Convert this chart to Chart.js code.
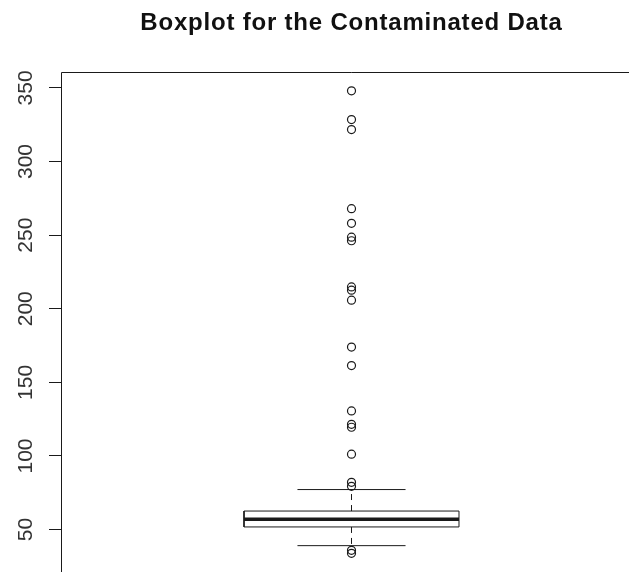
<!DOCTYPE html>
<html>
<head>
<meta charset="utf-8">
<script src="https://cdn.jsdelivr.net/npm/chart.js@4/dist/chart.umd.min.js"></script>
<style>
  html, body { margin: 0; padding: 0; background: #fff; overflow: hidden; }
  canvas { display: block; }
</style>
</head>
<body>
<canvas id="chart" width="660" height="600"></canvas>
<script>
// data
const chartTitle = 'Boxplot for the Contaminated Data';
const yTicks = [50, 100, 150, 200, 250, 300, 350];
// lower whisker, Q1, median, Q3, upper whisker
const boxStats = [39.1, 51.8, 57, 62.6, 77.2];
const outliers = [348, 328.5, 321.7, 268, 258, 248.6, 246.2, 214.8, 212.6, 205.8, 174, 161.4,
  130.6, 121.5, 119.5, 101.2, 82.1, 79.4, 35.9, 33.9];

// layout-ish constants (not data)
const center = 1;
const boxHalf = 0.185;
const stapleHalf = 0.093;
const ink = '#1a1a1a';

const [wLo, q1, med, q3, wHi] = boxStats;

function seg(points, extra) {
  return Object.assign({
    data: points,
    showLine: true,
    borderColor: ink,
    borderWidth: 1,
    pointRadius: 0,
    fill: false
  }, extra || {});
}

const datasets = [
  seg([
    { x: center - boxHalf, y: q1 }, { x: center + boxHalf, y: q1 },
    { x: center + boxHalf, y: q3 }, { x: center - boxHalf, y: q3 },
    { x: center - boxHalf, y: q1 }
  ]),
  seg([{ x: center - boxHalf, y: med }, { x: center + boxHalf, y: med }], { borderWidth: 3.5 }),
  seg([{ x: center, y: q3 }, { x: center, y: wHi }], { borderDash: [6, 5] }),
  seg([{ x: center, y: q1 }, { x: center, y: wLo }], { borderDash: [6, 5] }),
  seg([{ x: center - stapleHalf, y: wHi }, { x: center + stapleHalf, y: wHi }]),
  seg([{ x: center - stapleHalf, y: wLo }, { x: center + stapleHalf, y: wLo }]),
  {
    data: outliers.map(v => ({ x: center, y: v })),
    showLine: false,
    pointStyle: 'circle',
    pointRadius: 4,
    pointBorderWidth: 1.2,
    pointBorderColor: ink,
    pointBackgroundColor: 'rgba(0,0,0,0)'
  }
];

// frame, rotated tick labels and title, R style
const rDecor = {
  id: 'rDecor',
  afterDraw(chart) {
    const { ctx, chartArea } = chart;
    const yScale = chart.scales.y;
    ctx.save();
    ctx.strokeStyle = ink;
    ctx.lineWidth = 1;
    const l = Math.round(chartArea.left) + 0.5;
    const t = Math.round(chartArea.top) + 0.5;
    ctx.beginPath();
    ctx.moveTo(l, chartArea.bottom + 2);
    ctx.lineTo(l, t);
    ctx.lineTo(chartArea.right, t);
    ctx.lineTo(chartArea.right, chartArea.bottom);
    ctx.stroke();

    ctx.fillStyle = '#333';
    ctx.font = '21px "Liberation Sans", Arial, sans-serif';
    ctx.textAlign = 'center';
    ctx.textBaseline = 'alphabetic';
    yTicks.forEach(v => {
      const y = yScale.getPixelForValue(v);
      ctx.save();
      ctx.translate(32, y);
      ctx.rotate(-Math.PI / 2);
      ctx.fillText(String(v), 0, 0);
      ctx.restore();
    });

    ctx.fillStyle = '#111';
    ctx.font = 'bold 24px "Liberation Sans", Arial, sans-serif';
    ctx.letterSpacing = '0.8px';
    ctx.fillText(chartTitle, (chartArea.left + chartArea.right) / 2, 30);
    ctx.restore();
  }
};

new Chart(document.getElementById('chart'), {
  type: 'scatter',
  data: { datasets },
  options: {
    responsive: false,
    animation: false,
    layout: { padding: { top: 72, right: 18, bottom: 28, left: 0 } },
    plugins: {
      legend: { display: false },
      tooltip: { enabled: false },
      title: { display: false }
    },
    scales: {
      x: { type: 'linear', min: 0.5, max: 1.5, display: false },
      y: {
        type: 'linear',
        min: 21.2,
        max: 360.8,
        afterBuildTicks: scale => { scale.ticks = yTicks.map(v => ({ value: v })); },
        afterFit: scale => { scale.width = 61; },
        ticks: { display: false },
        border: { display: false },
        grid: {
          display: true,
          drawOnChartArea: false,
          drawTicks: true,
          tickLength: 12,
          color: ink,
          lineWidth: 1
        }
      }
    }
  },
  plugins: [rDecor]
});
</script>
</body>
</html>
